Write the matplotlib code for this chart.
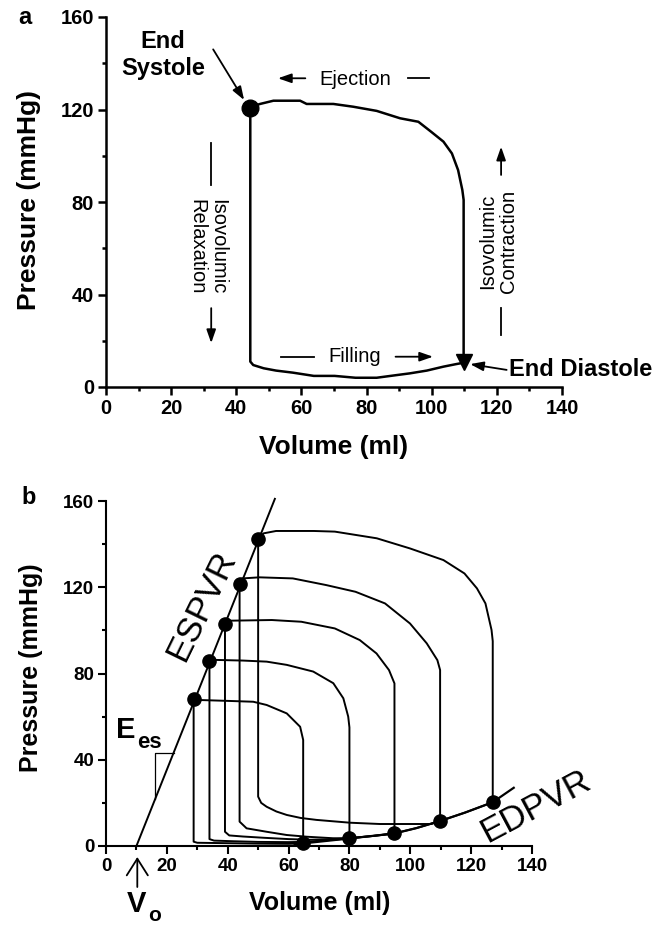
import matplotlib
matplotlib.use("Agg")
import matplotlib.pyplot as plt
from matplotlib.ticker import MultipleLocator

plt.rcParams['font.family'] = ['Liberation Sans', 'DejaVu Sans']

# ---- panel a: one pressure-volume loop ----
a_eject_vol = [44.3, 47.3, 51.4, 59.6, 61.6, 69.8, 75.9, 83.1, 90.3, 95.9, 99.8, 103.6, 106.2, 108.1, 109.4, 109.8]
a_eject_p = [121.0, 122.4, 123.8, 123.8, 122.4, 122.4, 121.2, 119.4, 116.2, 114.7, 110.4, 106.1, 101.0, 93.8, 85.2, 80.9]
a_fill_vol = [44.3, 45.2, 48.4, 52.2, 57.4, 63.8, 70.2, 76.6, 83.1, 89.5, 93.3, 98.5, 103.6, 107.5, 109.8]
a_fill_p = [11.0, 9.5, 8.1, 7.1, 6.2, 4.8, 4.8, 4.0, 4.0, 5.2, 5.9, 7.1, 8.8, 9.9, 10.5]
a_es_vol, a_es_p = 44.3, 120.5
a_ed_vol, a_ed_p = 109.8, 11.0

# ---- panel b: family of loops ----
b_eject_vol = [
    [28.8, 30.9, 40.0, 48.4, 52.8, 59.4, 63.8, 64.8],
    [34.0, 36.0, 45.0, 52.8, 59.4, 68.1, 74.7, 78.0, 79.6, 80.0],
    [39.1, 41.0, 54.5, 64.2, 75.2, 83.4, 88.9, 93.0, 94.8],
    [43.9, 44.9, 50.4, 61.4, 72.4, 82.0, 91.7, 99.9, 105.4, 108.9, 109.8],
    [50.0, 51.8, 55.9, 68.3, 75.2, 89.0, 99.9, 110.9, 117.8, 121.9, 124.7, 126.7, 127.1],
]
b_eject_p = [
    [68.0, 67.7, 67.3, 66.9, 65.4, 61.5, 55.3, 49.2],
    [85.8, 86.3, 86.0, 85.5, 84.0, 80.9, 75.5, 68.5, 60.0, 55.0],
    [102.9, 104.5, 104.8, 104.0, 100.9, 95.5, 89.3, 81.6, 75.4],
    [121.5, 124.1, 124.6, 124.1, 121.0, 117.9, 112.5, 103.2, 94.0, 86.2, 81.6],
    [142.4, 145.0, 146.1, 146.1, 145.8, 142.7, 138.0, 132.6, 126.4, 119.5, 112.5, 100.2, 95.0],
]
b_fill_vol = [
    [28.8, 30.0, 40.0, 50.0, 60.0, 64.8],
    [34.0, 35.5, 42.0, 50.0, 60.0, 65.0, 72.0, 80.0],
    [39.1, 40.5, 45.0, 52.0, 60.0, 67.0, 74.0, 80.0, 88.0, 94.8],
    [43.9, 46.2, 52.8, 59.4, 66.0, 74.6, 80.0, 88.0, 94.8, 102.0, 109.8],
    [50.0, 51.0, 52.8, 56.0, 59.4, 64.0, 69.2, 80.2, 90.0, 106.8, 109.8, 118.0, 127.1],
]
b_fill_p = [
    [2.0, 1.5, 1.3, 1.1, 1.0, 1.2],
    [3.2, 2.5, 2.2, 1.9, 1.8, 1.9, 2.6, 3.5],
    [6.6, 4.9, 4.4, 3.8, 3.2, 2.9, 3.1, 3.6, 4.7, 5.8],
    [11.3, 8.2, 6.6, 5.1, 4.3, 3.6, 3.6, 4.7, 5.9, 8.3, 11.6],
    [22.9, 20.0, 18.2, 16.0, 14.4, 13.0, 12.1, 10.8, 10.2, 10.2, 11.6, 15.5, 20.3],
]
b_es_vol = [28.8, 34.0, 39.1, 43.9, 50.0]
b_es_p = [68.0, 85.8, 102.9, 121.5, 142.4]
b_ed_vol = [64.8, 80.0, 94.8, 109.8, 127.1]
b_ed_p = [1.2, 3.5, 5.8, 11.6, 20.3]
espvr_vol = [10.0, 55.5]
espvr_p = [0.0, 161.0]
edpvr_vol = [62.0, 64.8, 80.0, 94.8, 102.0, 109.8, 118.0, 127.1, 134.0]
edpvr_p = [0.7, 1.2, 3.5, 5.8, 8.3, 11.6, 15.5, 20.3, 27.0]
ees_vol = [16.1, 16.1, 22.2]
ees_p = [21.6, 43.3, 43.3]

W, H = 656, 927
fig = plt.figure(figsize=(W / 100, H / 100), dpi=100)


def fx(x):
    return x / W


def fy(y):
    return 1 - y / H


def style_axes(ax, spine_w, tick_size):
    ax.set_xlim(0, 140)
    ax.set_ylim(0, 160)
    for s in ("top", "right"):
        ax.spines[s].set_visible(False)
    for s in ("left", "bottom"):
        ax.spines[s].set_linewidth(spine_w)
    ax.xaxis.set_major_locator(MultipleLocator(20))
    ax.xaxis.set_minor_locator(MultipleLocator(10))
    ax.yaxis.set_major_locator(MultipleLocator(40))
    ax.yaxis.set_minor_locator(MultipleLocator(20))
    ax.tick_params(which="major", direction="out", length=5.5, width=spine_w, pad=3,
                   labelsize=tick_size)
    ax.tick_params(which="minor", direction="out", length=3, width=spine_w)
    for lab in ax.get_xticklabels() + ax.get_yticklabels():
        lab.set_fontweight("bold")


def arrow(ax, x0, y0, x1, y1, lw=1.3):
    ax.annotate("", xy=(x1, y1), xytext=(x0, y0),
                arrowprops=dict(arrowstyle="-|>,head_length=0.8,head_width=0.28",
                                lw=lw, color="black", shrinkA=0, shrinkB=0,
                                mutation_scale=10),
                annotation_clip=False)


# ================= panel a =================
ax = fig.add_axes([fx(106), fy(387), (562 - 106) / W, (387 - 17) / H])
style_axes(ax, 1.8, 14.5)
loop_v = a_eject_vol + a_fill_vol[::-1] + [a_eject_vol[0]]
loop_p = a_eject_p + a_fill_p[::-1] + [a_eject_p[0]]
ax.plot(loop_v, loop_p, color="black", lw=1.8, clip_on=False)
ax.plot([a_es_vol], [a_es_p], "o", color="black", ms=12, clip_on=False)
ax.plot([a_ed_vol], [a_ed_p], "v", color="black", ms=12, clip_on=False)

ax.text(17.5, 143.6, "End\nSystole", ha="center", va="center", fontsize=17,
        fontweight="bold", linespacing=1.2)
arrow(ax, 32.9, 146.0, 42.4, 124.1)

ax.text(123.7, 7.6, "End Diastole", ha="left", va="center", fontsize=17,
        fontweight="bold", clip_on=False)
arrow(ax, 123.0, 7.4, 111.8, 9.9)

ax.text(76.6, 133.0, "Ejection", ha="center", va="center", fontsize=14.5)
arrow(ax, 61.2, 133.5, 52.8, 133.5)
ax.plot([92.7, 99.1], [133.5, 133.5], color="black", lw=1.3)

ax.text(76.4, 13.4, "Filling", ha="center", va="center", fontsize=14.5)
ax.plot([53.7, 63.8], [13.1, 13.1], color="black", lw=1.3)
arrow(ax, 88.9, 13.1, 100.4, 13.1)

ax.text(31.2, 60.7, "Isovolumic\nRelaxation", ha="center", va="center",
        rotation=-90, fontsize=14.5, linespacing=1.1)
ax.plot([32.3, 32.3], [105.4, 87.3], color="black", lw=1.3)
arrow(ax, 32.3, 34.1, 32.3, 19.0)

ax.text(120.4, 62.8, "Isovolumic\nContraction", ha="center", va="center",
        rotation=90, fontsize=14.5, linespacing=1.1)
arrow(ax, 121.3, 91.7, 121.3, 103.9)
ax.plot([121.3, 121.3], [34.1, 22.5], color="black", lw=1.3)

fig.text(fx(29.5), fy(200), "Pressure (mmHg)", rotation=90, ha="center", va="center",
         fontsize=19, fontweight="bold")
fig.text(fx(334), fy(447), "Volume (ml)", ha="center", va="center",
         fontsize=19, fontweight="bold")
fig.text(fx(25), fy(18), "a", ha="center", va="center", fontsize=17, fontweight="bold")

# ================= panel b =================
bx = fig.add_axes([fx(106), fy(846), (532 - 106) / W, (846 - 501) / H])
style_axes(bx, 1.5, 13.5)
for ev, ep, fv, fp in zip(b_eject_vol, b_eject_p, b_fill_vol, b_fill_p):
    lv = ev + fv[::-1] + [ev[0]]
    lp = ep + fp[::-1] + [ep[0]]
    bx.plot(lv, lp, color="black", lw=1.4, clip_on=False)
bx.plot(espvr_vol, espvr_p, color="black", lw=1.4, clip_on=False)
bx.plot(edpvr_vol, edpvr_p, color="black", lw=1.6, clip_on=False)
bx.plot(ees_vol, ees_p, color="black", lw=0.9)
bx.plot(b_es_vol, b_es_p, "o", color="black", ms=9.5, clip_on=False)
bx.plot(b_ed_vol, b_ed_p, "o", color="black", ms=9.5, clip_on=False)

bx.text(31.2, 111.3, "ESPVR", rotation=64, ha="center", va="center",
        rotation_mode="anchor", fontsize=25)
bx.text(141.0, 18.5, "EDPVR", rotation=28, ha="center", va="center",
        rotation_mode="anchor", fontsize=25, clip_on=False)
bx.text(3.3, 50.0, "E", ha="left", va="baseline", fontsize=21, fontweight="bold")
bx.text(10.2, 45.5, "es", ha="left", va="baseline", fontsize=16, fontweight="bold")

fig.text(fx(136.5), fy(912), "V", ha="center", va="baseline", fontsize=21,
         fontweight="bold")
fig.text(fx(148), fy(925), "o", ha="left", va="bottom", fontsize=15, fontweight="bold")
bx.annotate("", xy=(fx(137.3), fy(857)), xytext=(fx(137.3), fy(887)),
            xycoords="figure fraction", textcoords="figure fraction",
            arrowprops=dict(arrowstyle="->,head_length=0.6,head_width=0.38",
                            lw=1.3, color="black", shrinkA=0, shrinkB=0,
                            mutation_scale=20),
            annotation_clip=False)

fig.text(fx(31), fy(668), "Pressure (mmHg)", rotation=90, ha="center", va="center",
         fontsize=18, fontweight="bold")
fig.text(fx(320), fy(903), "Volume (ml)", ha="center", va="center",
         fontsize=18, fontweight="bold")
fig.text(fx(29), fy(497), "b", ha="center", va="center", fontsize=17, fontweight="bold")

fig.savefig("out.png", dpi=100)
